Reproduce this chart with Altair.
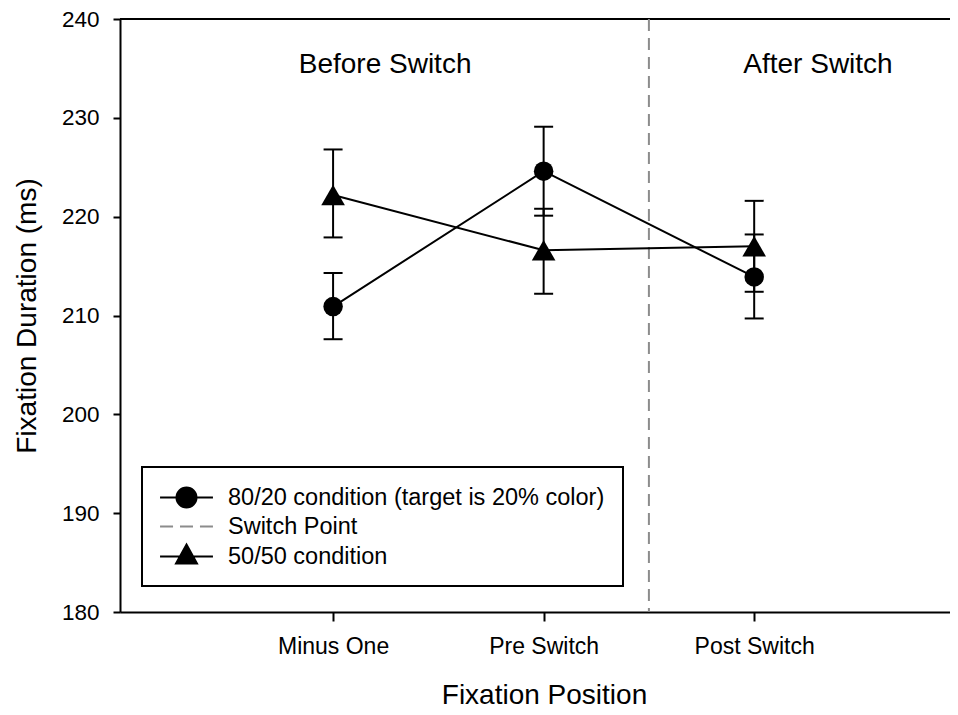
import altair as alt
import pandas as pd

# ---- data ----
positions = ["Minus One", "Pre Switch", "Post Switch"]
pos_x = [1, 2, 3]

cond_8020_mean = [210.9, 224.6, 213.9]
cond_8020_lo = [207.6, 220.1, 209.7]
cond_8020_hi = [214.3, 229.1, 218.2]

cond_5050_mean = [222.2, 216.6, 217.0]
cond_5050_lo = [217.9, 212.2, 212.4]
cond_5050_hi = [226.8, 220.8, 221.6]

switch_x = [2.5]
legend_labels = ["80/20 condition (target is 20% color)", "Switch Point", "50/50 condition"]
region_labels = ["Before Switch", "After Switch"]
region_x = [1.247, 3.303]
region_y = [234.5, 234.5]
y_ticks = [180, 190, 200, 210, 220, 230, 240]
y_top = [240]

FONT = "Liberation Sans, Arial, Helvetica, sans-serif"

rows = []
for i in range(3):
    rows.append(dict(series="8020", x=pos_x[i], mean=cond_8020_mean[i], lo=cond_8020_lo[i], hi=cond_8020_hi[i]))
for i in range(3):
    rows.append(dict(series="5050", x=pos_x[i], mean=cond_5050_mean[i], lo=cond_5050_lo[i], hi=cond_5050_hi[i]))
df = pd.DataFrame(rows)

df_region = pd.DataFrame({"label": region_labels, "x": region_x, "y": region_y})
df_switch = pd.DataFrame({"x": switch_x})
df_top = pd.DataFrame({"y": y_top})
df_leg = pd.DataFrame({"label": legend_labels})

label_expr = " : ".join(
    f"datum.value == {v} ? '{t}'" for v, t in zip(pos_x, positions)
) + " : ''"

xscale = alt.Scale(domain=[-0.012, 3.93], nice=False, zero=False)
yscale = alt.Scale(domain=[180, 240], nice=False, zero=False)

x_enc = alt.X(
    "x:Q",
    scale=xscale,
    axis=alt.Axis(
        values=pos_x,
        labelExpr=label_expr,
        title="Fixation Position",
        tickSize=9,
        labelPadding=32,
        labelBaseline="alphabetic",
        labelFontSize=23,
        titleFontSize=28,
        titleY=91,
        titleX=424,
        titleBaseline="alphabetic",
    ),
)
y_axis = alt.Axis(
    values=y_ticks,
    title="Fixation Duration (ms)",
    tickSize=7,
    labelPadding=14,
    labelFontSize=22.5,
    titleFontSize=28,
    titleX=-85,
    titleBaseline="alphabetic",
)

base = alt.Chart(df)

lines = base.mark_line(color="black", strokeWidth=2).encode(
    x=x_enc,
    y=alt.Y("mean:Q", scale=yscale, axis=y_axis),
    detail="series:N",
)

err = base.mark_rule(color="black", strokeWidth=2).encode(
    x="x:Q", y="lo:Q", y2="hi:Q"
)
cap_lo = base.mark_rule(color="black", strokeWidth=2, xOffset=-9.5, x2Offset=9.5).encode(
    x="x:Q", x2="x", y="lo:Q"
)
cap_hi = base.mark_rule(color="black", strokeWidth=2, xOffset=-9.5, x2Offset=9.5).encode(
    x="x:Q", x2="x", y="hi:Q"
)

circles = base.transform_filter("datum.series == '8020'").mark_point(
    shape="circle", filled=True, size=380, color="black", opacity=1
).encode(x="x:Q", y="mean:Q")

triangles = base.transform_filter("datum.series == '5050'").mark_point(
    shape="triangle-up", filled=True, size=560, color="black", opacity=1
).encode(x="x:Q", y="mean:Q")

switch_rule = alt.Chart(df_switch).mark_rule(
    color="#8c8c8c", strokeWidth=2, strokeDash=[12, 7]
).encode(x="x:Q")

top_rule = alt.Chart(df_top).mark_rule(color="black", strokeWidth=2).encode(y="y:Q")

region_text = alt.Chart(df_region).mark_text(
    fontSize=28, font=FONT, color="black", baseline="alphabetic", align="center"
).encode(x="x:Q", y="y:Q", text="label:N")

# legend symbols: line + marker drawn as custom paths
leg_paths = [
    "M-2.3,0H2.3M0.87,0A0.87,0.87,0,1,1,-0.87,0A0.87,0.87,0,1,1,0.87,0Z",
    "M-2.3,0H-1.17M-0.565,0H0.565M1.17,0H2.3",
    "M-2.3,0H2.3M0,-1.04L0.91,0.61L-0.91,0.61Z",
]
leg_colors = ["black", "#8c8c8c", "black"]

legend = alt.Legend(
    title=None,
    orient="none",
    legendX=22,
    legendY=448,
    fillColor="white",
    strokeColor="black",
    padding=18,
    rowPadding=2,
    symbolSize=529,
    symbolStrokeWidth=2,
    symbolOffset=14,
    labelOffset=29,
    labelFontSize=23.5,
    labelFont=FONT,
    labelColor="black",
    labelLimit=600,
)

legend_layer = alt.Chart(df_leg).transform_filter("false").mark_point(
    filled=True, opacity=1
).encode(
    shape=alt.Shape("label:N", scale=alt.Scale(domain=legend_labels, range=leg_paths), legend=legend),
    fill=alt.Fill("label:N", scale=alt.Scale(domain=legend_labels, range=leg_colors), legend=legend),
    stroke=alt.Stroke("label:N", scale=alt.Scale(domain=legend_labels, range=leg_colors), legend=legend),
)

chart = alt.layer(
    top_rule, switch_rule, lines, err, cap_lo, cap_hi, circles, triangles, region_text, legend_layer
).properties(
    width=830,
    height=593,
    autosize=alt.AutoSizeParams(type="none"),
    padding={"left": 112, "top": 11, "right": 0, "bottom": 100},
).configure_view(
    stroke=None
).configure_axis(
    domainColor="black",
    domainWidth=2,
    tickColor="black",
    tickWidth=2,
    labelColor="black",
    titleColor="black",
    labelFont=FONT,
    titleFont=FONT,
    titleFontWeight="normal",
    grid=False,
).configure_legend(
    strokeWidth=2
)

chart.save("out.html", embed_options={"renderer": "svg", "actions": False})
